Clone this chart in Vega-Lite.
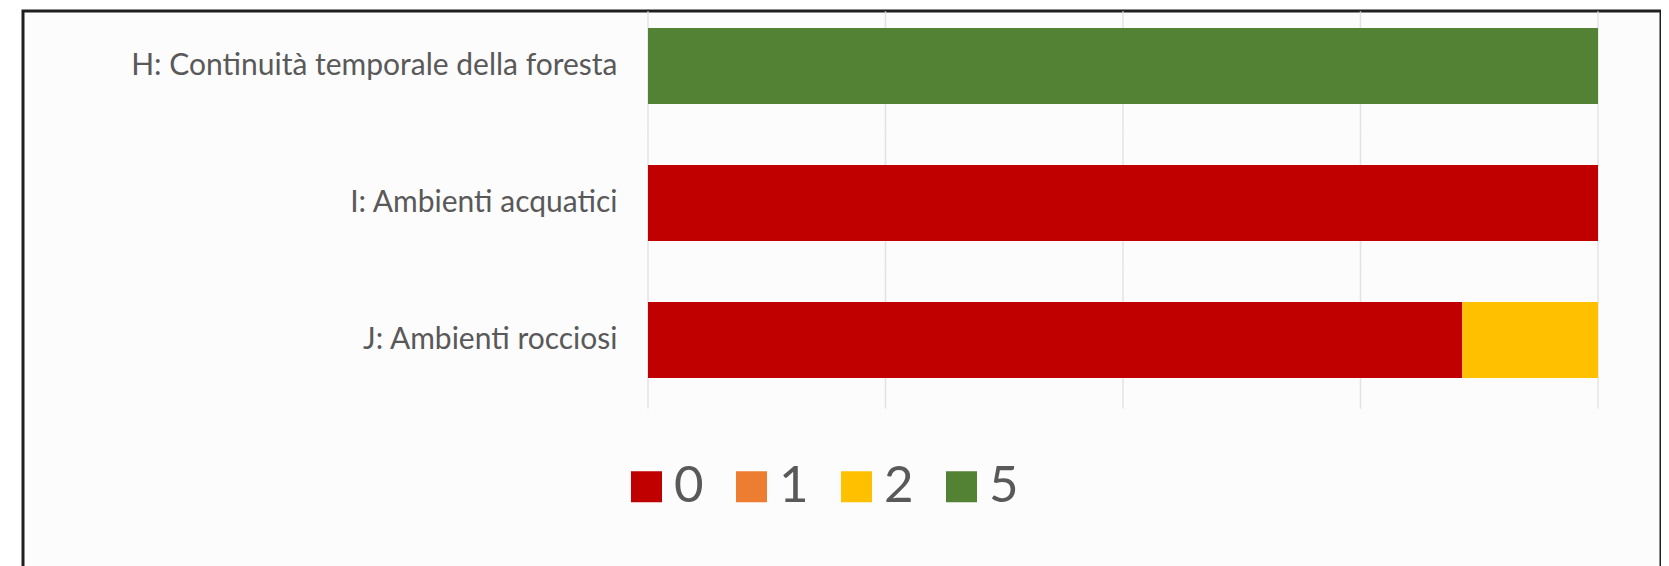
{
  "$schema": "https://vega.github.io/schema/vega-lite/v6.json",
  "width": 1638,
  "height": 600,
  "autosize": {"type": "none"},
  "padding": {"left": 23, "top": 11, "right": 0, "bottom": 0},
  "background": "#ffffff",
  "config": {
    "view": {"fill": "#fcfcfc", "stroke": "#1f1f1f", "strokeWidth": 3},
    "font": "Lato"
  },
  "datasets": {
    "bars": [
      {"ambito": "H: Continuità temporale della foresta", "classe": "5", "n": 1},
      {"ambito": "I: Ambienti acquatici", "classe": "0", "n": 1},
      {"ambito": "J: Ambienti rocciosi", "classe": "0", "n": 6},
      {"ambito": "J: Ambienti rocciosi", "classe": "2", "n": 1}
    ],
    "grid": [
      {"ambito": "H: Continuità temporale della foresta", "quota": 0},
      {"ambito": "H: Continuità temporale della foresta", "quota": 0.25},
      {"ambito": "H: Continuità temporale della foresta", "quota": 0.5},
      {"ambito": "H: Continuità temporale della foresta", "quota": 0.75},
      {"ambito": "H: Continuità temporale della foresta", "quota": 1},
      {"ambito": "I: Ambienti acquatici", "quota": 0},
      {"ambito": "I: Ambienti acquatici", "quota": 0.25},
      {"ambito": "I: Ambienti acquatici", "quota": 0.5},
      {"ambito": "I: Ambienti acquatici", "quota": 0.75},
      {"ambito": "I: Ambienti acquatici", "quota": 1},
      {"ambito": "J: Ambienti rocciosi", "quota": 0},
      {"ambito": "J: Ambienti rocciosi", "quota": 0.25},
      {"ambito": "J: Ambienti rocciosi", "quota": 0.5},
      {"ambito": "J: Ambienti rocciosi", "quota": 0.75},
      {"ambito": "J: Ambienti rocciosi", "quota": 1}
    ]
  },
  "layer": [
    {
      "data": {"name": "grid"},
      "mark": {"type": "tick", "orient": "vertical", "size": 137, "thickness": 1.5, "color": "#d9d9d9", "clip": true},
      "encoding": {
        "x": {"field": "quota", "type": "quantitative", "scale": {"domain": [-0.65789, 1.06632], "zero": false, "nice": false}, "axis": null},
        "y": {
          "field": "ambito", "type": "nominal", "sort": null,
          "scale": {"paddingInner": 0.445, "paddingOuter": 0.912, "align": 0.068},
          "axis": {"title": null, "orient": "left", "offset": -625, "ticks": false, "domain": false, "grid": false, "labelPadding": 31, "labelFontSize": 30, "labelColor": "#595959", "labelFont": "Lato", "labelLimit": 800, "zindex": 1}
        }
      }
    },
    {
      "data": {"name": "bars"},
      "mark": {"type": "bar"},
      "encoding": {
        "y": {"field": "ambito", "type": "nominal", "sort": null},
        "x": {"field": "n", "type": "quantitative", "stack": "normalize", "axis": null},
        "color": {
          "field": "classe", "type": "nominal",
          "scale": {"domain": ["0", "1", "2", "5"], "range": ["#c00000", "#ed7d31", "#ffc000", "#548235"]},
          "legend": {"title": null, "orient": "none", "legendX": 598, "legendY": 450, "direction": "horizontal", "symbolType": "square", "symbolSize": 961, "symbolStrokeWidth": 0, "labelFontSize": 51, "labelColor": "#595959", "labelOffset": 2, "columnPadding": 22, "labelFont": "Lato"}
        },
        "order": {"field": "classe", "type": "nominal", "sort": "ascending"}
      }
    }
  ]
}
